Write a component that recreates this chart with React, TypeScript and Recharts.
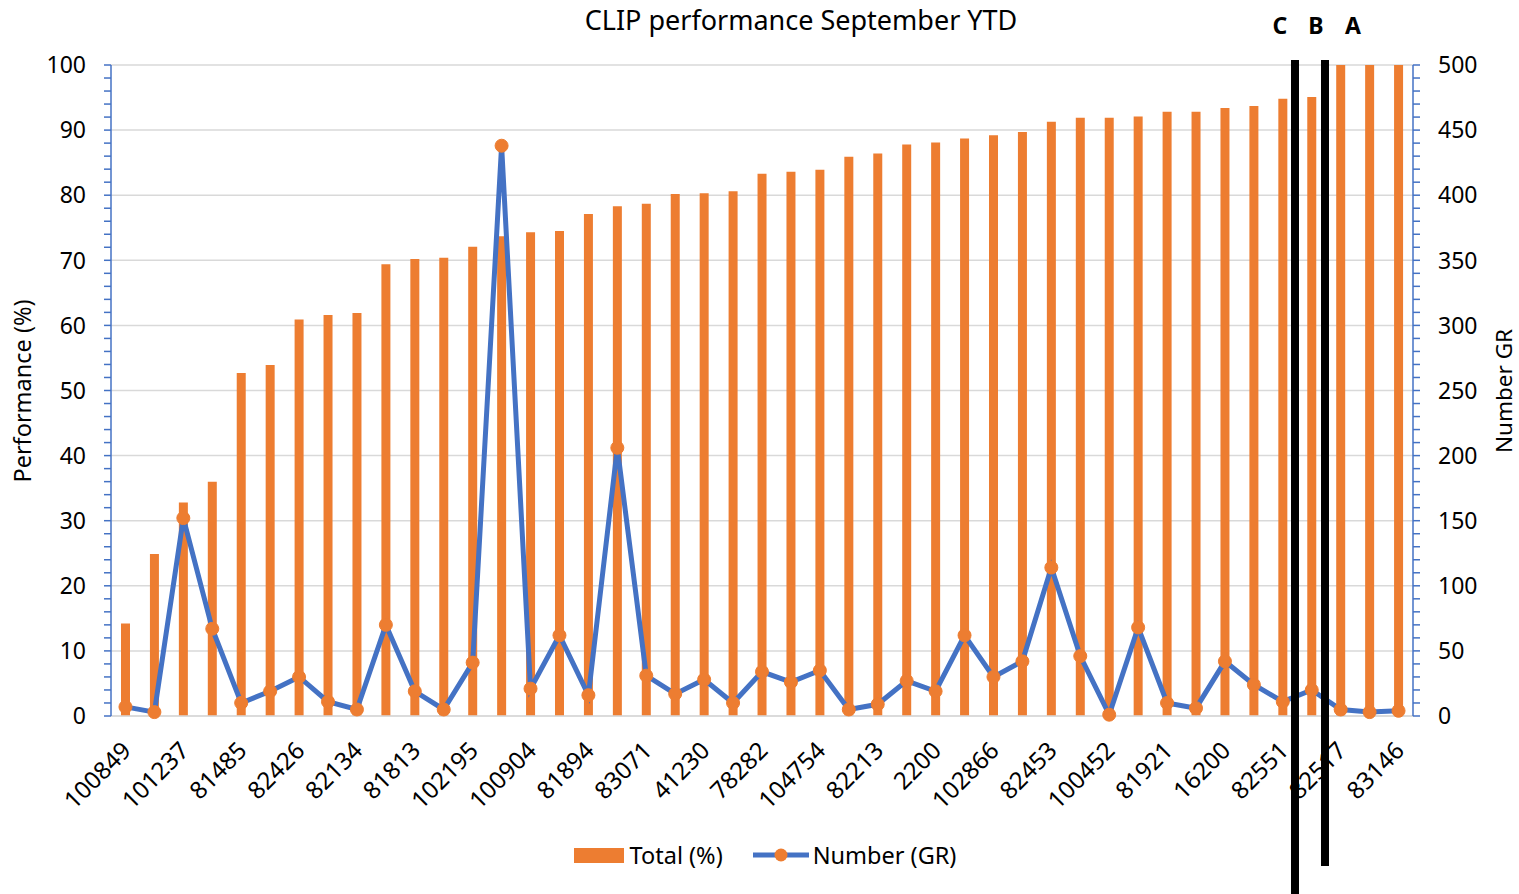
import {
  ComposedChart,
  Bar,
  Line,
  XAxis,
  YAxis,
  CartesianGrid,
  Legend,
} from 'recharts';

// Site IDs, only every second one is printed on the axis
const categories = [
  '100849', '', '101237', '', '81485', '', '82426', '', '82134', '',
  '81813', '', '102195', '', '100904', '', '81894', '', '83071', '',
  '41230', '', '78282', '', '104754', '', '82213', '', '2200', '',
  '102866', '', '82453', '', '100452', '', '81921', '', '16200', '',
  '82551', '', '82517', '', '83146',
];

const totalPct = [
  14.2, 24.9, 32.8, 36.0, 52.7, 53.9, 60.9, 61.6, 61.9, 69.4,
  70.2, 70.4, 72.1, 73.7, 74.3, 74.5, 77.1, 78.3, 78.7, 80.2,
  80.3, 80.6, 83.3, 83.6, 83.9, 85.9, 86.4, 87.8, 88.1, 88.7,
  89.2, 89.7, 91.3, 91.9, 91.9, 92.1, 92.8, 92.8, 93.4, 93.7,
  94.8, 95.1, 100, 100, 100,
];

const numberGR = [
  7, 3, 152, 67, 10, 19, 30, 11, 5, 70,
  19, 5, 41, 438, 21, 62, 16, 206, 31, 17,
  28, 10, 34, 26, 35, 5, 9, 27, 19, 62,
  30, 42, 114, 46, 1, 68, 10, 6, 42, 24,
  11, 20, 5, 3, 4,
];

const leftMajor = [0, 10, 20, 30, 40, 50, 60, 70, 80, 90, 100];
const leftTicks = Array.from({ length: 51 }, (_, i) => i * 2);
const rightTicks = Array.from({ length: 51 }, (_, i) => i * 10);

const data = categories.map((name, i) => ({
  name,
  total: totalPct[i],
  number: numberGR[i],
}));

const FONT = '"Noto Sans", sans-serif';
const ORANGE = '#ED7D31';
const BLUE = '#4472C4';

const YTick = (props: any) => {
  const { x, y, payload, textAnchor, step } = props;
  if (payload.value % step !== 0) return <g />;
  return (
    <text x={x} y={y} dy="0.36em" textAnchor={textAnchor} fontSize={23} fontFamily={FONT} fill="#000">
      {payload.value}
    </text>
  );
};

const XTick = (props: any) => {
  const { x, y, payload } = props;
  return (
    <g transform={`translate(${x + 1},${y + 22})`}>
      <text x={0} y={0} dy="0.36em" textAnchor="end" transform="rotate(-45)" fontSize={24} fontFamily={FONT} fill="#000">
        {payload.value}
      </text>
    </g>
  );
};

const LegendContent = () => (
  <div style={{ height: 30, display: 'flex', justifyContent: 'center', alignItems: 'center', fontFamily: FONT, fontSize: 23.5 }}>
    <span style={{ display: 'inline-block', width: 50, height: 15, background: ORANGE, marginRight: 6, marginLeft: 6 }} />
    <span style={{ marginRight: 30 }}>Total (%)</span>
    <svg width={56} height={16} style={{ marginRight: 4 }}>
      <line x1={0} y1={8} x2={56} y2={8} stroke={BLUE} strokeWidth={5} />
      <circle cx={28} cy={8} r={6.5} fill={ORANGE} />
    </svg>
    <span>Number (GR)</span>
  </div>
);

const mark = (left: number, height: number) => ({
  position: 'absolute' as const,
  left,
  top: 60,
  width: 8,
  height,
  background: '#000',
});

const letter = (cx: number) => ({
  position: 'absolute' as const,
  left: cx - 15,
  width: 30,
  top: 9,
  textAlign: 'center' as const,
  fontFamily: FONT,
  fontWeight: 700,
  fontSize: 23,
  lineHeight: '32px',
});

export default function App() {
  return (
    <div style={{ position: 'absolute', left: 0, top: 0, width: 1519, height: 894, background: '#fff', overflow: 'hidden' }}>
      <div style={{ position: 'absolute', left: 451, width: 700, top: 2, textAlign: 'center', fontFamily: FONT, fontSize: 27, lineHeight: '36px' }}>
        CLIP performance September YTD
      </div>
      <div style={{ position: 'absolute', left: 22, top: 391, transform: 'translate(-50%,-50%) rotate(-90deg)', whiteSpace: 'nowrap', fontFamily: FONT, fontSize: 23.5 }}>
        Performance (%)
      </div>
      <div style={{ position: 'absolute', left: 1503, top: 391, transform: 'translate(-50%,-50%) rotate(-90deg)', whiteSpace: 'nowrap', fontFamily: FONT, fontSize: 22.5 }}>
        Number GR
      </div>
      <ComposedChart
        width={1519}
        height={894}
        data={data}
        margin={{ top: 65, right: 36, bottom: 24, left: 41 }}
        barCategoryGap={0}
      >
        <CartesianGrid vertical={false} stroke="#d9d9d9" strokeWidth={1.5} yAxisId="left" horizontalValues={leftMajor} syncWithTicks />
        <XAxis
          dataKey="name"
          interval={1}
          tickLine={false}
          axisLine={{ stroke: '#d9d9d9', strokeWidth: 1.5 }}
          tick={<XTick />}
          height={124}
        />
        <YAxis
          yAxisId="left"
          domain={[0, 100]}
          ticks={leftTicks}
          interval={0}
          width={70}
          tickSize={7}
          tickMargin={18}
          axisLine={{ stroke: BLUE, strokeWidth: 1.5 }}
          tickLine={{ stroke: BLUE, strokeWidth: 1.5 }}
          tick={<YTick step={10} />}
        />
        <YAxis
          yAxisId="right"
          orientation="right"
          domain={[0, 500]}
          ticks={rightTicks}
          interval={0}
          width={70}
          tickSize={7}
          tickMargin={18}
          axisLine={{ stroke: BLUE, strokeWidth: 1.5 }}
          tickLine={{ stroke: BLUE, strokeWidth: 1.5 }}
          tick={<YTick step={50} />}
        />
        <Legend verticalAlign="bottom" content={<LegendContent />} />
        <Bar yAxisId="left" dataKey="total" name="Total (%)" fill={ORANGE} barSize={9} isAnimationActive={false} />
        <Line
          yAxisId="right"
          dataKey="number"
          name="Number (GR)"
          type="linear"
          stroke={BLUE}
          strokeWidth={5}
          dot={{ r: 6.5, fill: ORANGE, stroke: ORANGE, strokeWidth: 1 }}
          activeDot={false}
          isAnimationActive={false}
        />
      </ComposedChart>
      <div style={mark(1291, 834)} />
      <div style={mark(1321, 806)} />
      <div style={letter(1280)}>C</div>
      <div style={letter(1316)}>B</div>
      <div style={letter(1353)}>A</div>
    </div>
  );
}
